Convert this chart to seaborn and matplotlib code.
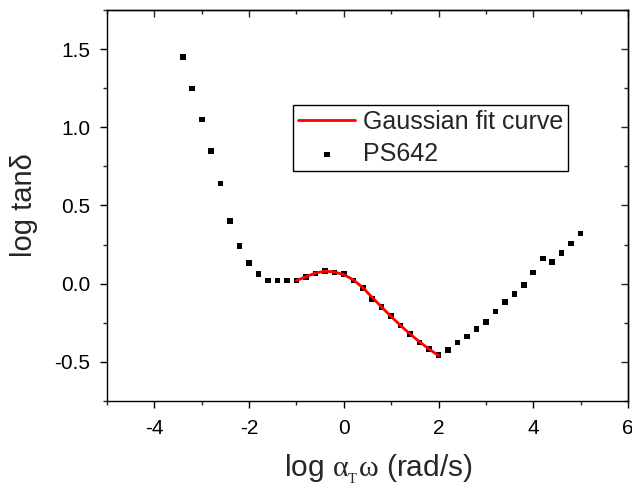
import numpy as np
import pandas as pd
import matplotlib
matplotlib.use("Agg")
import matplotlib.pyplot as plt
from matplotlib.ticker import MultipleLocator
import seaborn as sns

# ---- data ----
ps_x = [-3.4, -3.2, -3.0, -2.8, -2.6, -2.4, -2.2, -2.0, -1.8, -1.6, -1.4, -1.2,
        -1.0, -0.8, -0.6, -0.4, -0.2, 0.0, 0.2, 0.4, 0.6, 0.8, 1.0, 1.2, 1.4,
        1.6, 1.8, 2.0, 2.2, 2.4, 2.6, 2.8, 3.0, 3.2, 3.4, 3.6, 3.8, 4.0, 4.2,
        4.4, 4.6, 4.8, 5.0]
ps_y = [1.449, 1.248, 1.049, 0.850, 0.642, 0.400, 0.242, 0.133, 0.063, 0.020,
        0.020, 0.020, 0.020, 0.044, 0.065, 0.082, 0.073, 0.063, 0.020, -0.029,
        -0.097, -0.148, -0.208, -0.267, -0.320, -0.376, -0.416, -0.457, -0.425,
        -0.376, -0.337, -0.288, -0.246, -0.178, -0.118, -0.067, -0.007, 0.071,
        0.161, 0.140, 0.197, 0.257, 0.320]

fit_x = [-1.0, -0.8, -0.6, -0.4, -0.2, 0.0, 0.2, 0.4, 0.6, 0.8, 1.0, 1.2, 1.4,
         1.6, 1.8, 2.0]
fit_y = [0.020, 0.045, 0.068, 0.080, 0.075, 0.058, 0.025, -0.025, -0.088,
         -0.150, -0.210, -0.268, -0.322, -0.372, -0.418, -0.460]

x_ticks = [-4, -2, 0, 2, 4, 6]
y_ticks = [-0.5, 0.0, 0.5, 1.0, 1.5]

sns.set_style("ticks")
plt.rcParams['font.family'] = ['Liberation Sans', 'DejaVu Sans']
plt.rcParams['axes.unicode_minus'] = False
plt.rcParams['mathtext.fontset'] = 'custom'
plt.rcParams['mathtext.rm'] = 'Liberation Serif'
plt.rcParams['mathtext.it'] = 'Liberation Serif'
plt.rcParams['mathtext.bf'] = 'Liberation Serif'

fig = plt.figure(figsize=(6.32, 4.86), dpi=100)
ax = fig.add_axes([107/632, 1-401/486, 521/632, 391/486])

sns.lineplot(x=fit_x, y=fit_y, ax=ax, color='#ff0000', lw=2.0,
             label='Gaussian fit curve', sort=False)
sns.scatterplot(x=ps_x, y=ps_y, ax=ax, marker='s', color='black', s=16,
                edgecolor='none', linewidth=0, label='PS642')

ax.set_xlim(-5, 6)
ax.set_ylim(-0.75, 1.75)
ax.set_xticks(x_ticks)
ax.set_xticklabels([str(v) for v in x_ticks])
ax.set_yticks(y_ticks)
ax.set_yticklabels([f"{v:.1f}" for v in y_ticks])
ax.xaxis.set_minor_locator(MultipleLocator(1))
ax.yaxis.set_minor_locator(MultipleLocator(0.25))

for s in ax.spines.values():
    s.set_visible(True)
    s.set_linewidth(1.0)
    s.set_color('black')

ax.tick_params(which='major', direction='out', length=5, width=1.0,
               labelsize=15, colors='black')
ax.tick_params(axis='x', which='major', pad=8)
ax.tick_params(axis='y', which='major', pad=7)
ax.tick_params(which='minor', direction='out', length=3, width=1.0)

# inward ticks on top and right
top = ax.secondary_xaxis('top')
top.set_xticks(x_ticks)
top.xaxis.set_minor_locator(MultipleLocator(1))
top.tick_params(which='major', direction='in', length=5, width=1.0, labeltop=False)
top.tick_params(which='minor', direction='in', length=3, width=1.0)
top.spines['top'].set_linewidth(1.0)
right = ax.secondary_yaxis('right')
right.set_yticks(y_ticks)
right.yaxis.set_minor_locator(MultipleLocator(0.25))
right.tick_params(which='major', direction='in', length=5, width=1.0, labelright=False)
right.tick_params(which='minor', direction='in', length=3, width=1.0)
right.spines['right'].set_linewidth(1.0)

ax.set_xlabel(r'log $\alpha_{{}_{\mathrm{T}}}\omega$ (rad/s)', fontsize=21.5)
ax.xaxis.set_label_coords(0.520, -0.133)
ax.set_ylabel('log tanδ', fontsize=21, labelpad=12)

leg = ax.legend(loc='upper left', bbox_to_anchor=(0.357, 0.757), borderaxespad=0,
                fontsize=18, frameon=True, fancybox=False, edgecolor='black',
                framealpha=1, handlelength=2.3, handletextpad=0.3, borderpad=0.2,
                labelspacing=0.33, numpoints=1, scatterpoints=1)
leg.get_frame().set_linewidth(1.0)

fig.savefig('out.png', dpi=100)
